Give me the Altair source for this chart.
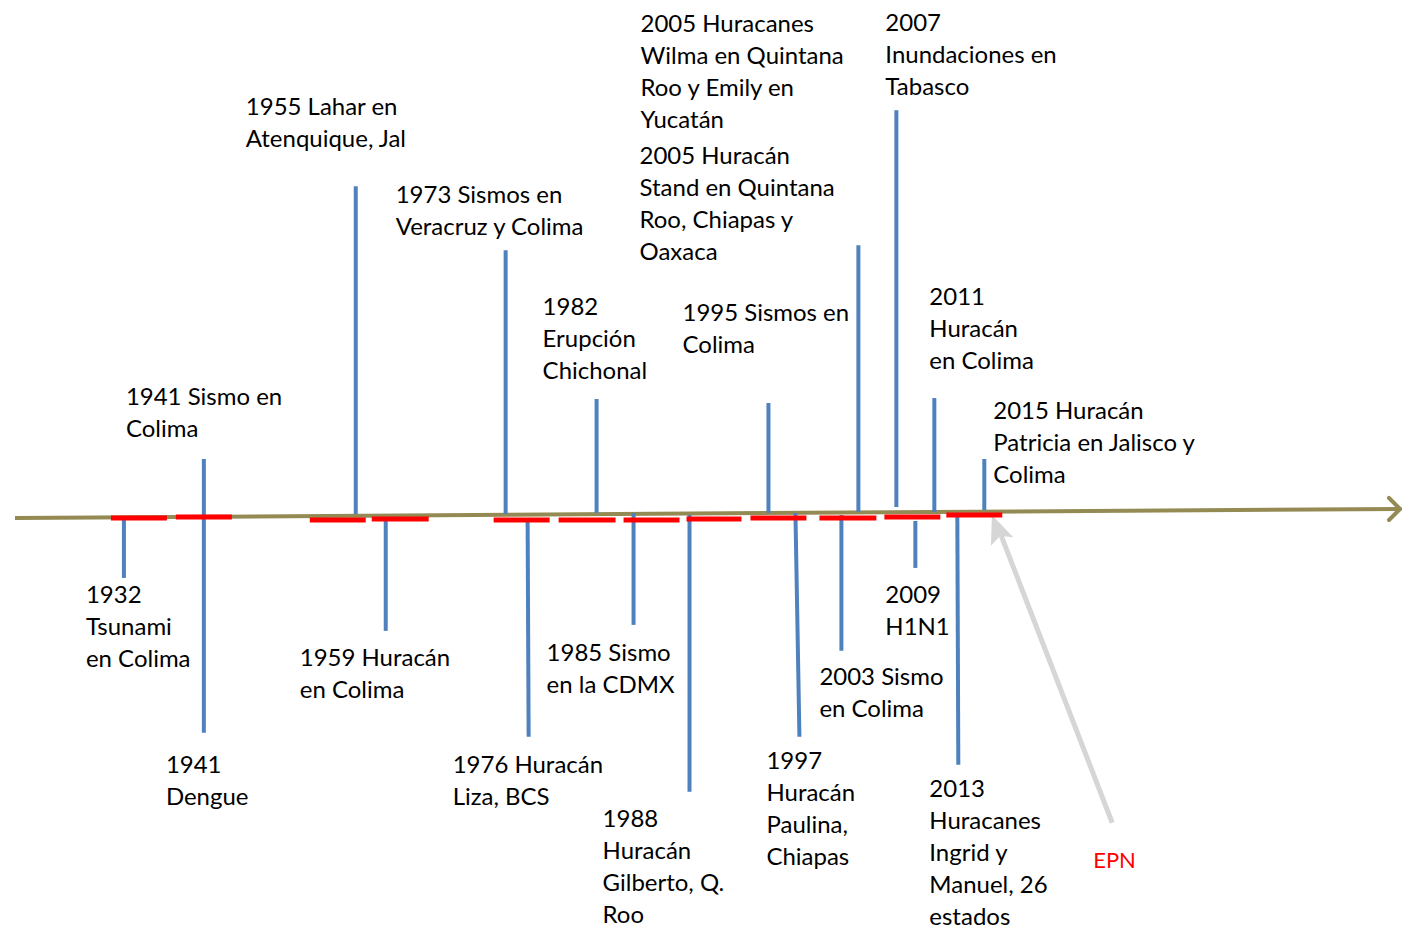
import altair as alt
import pandas as pd

# ---- data ----
# main timeline axis (start / end of the olive arrow)
axis_x = [15, 1401]
axis_y = [518, 509]
# arrow head arms of the axis
head_x = [1390, 1390]
head_y = [498, 520]

# red period segments on the axis
seg_x1 = [111, 176, 310, 372, 494, 559, 624, 687, 751, 820, 885, 947]
seg_x2 = [167, 232, 366, 429, 550, 616, 680, 742, 807, 877, 941, 1003]
seg_y = [518, 517, 520, 519, 520, 520, 520, 519, 518, 518, 517, 515]

# blue event stems: x top, x bottom, top, bottom
stem_x1 = [204, 356, 506, 597, 769, 859, 897, 935, 985,
           124, 204, 386, 528, 634, 690, 796, 842, 916, 958]
stem_x2 = [204, 356, 506, 597, 769, 859, 897, 935, 985,
           124, 204, 386, 529, 634, 690, 800, 842, 916, 959]
stem_top = [459, 186, 250, 399, 403, 245, 110, 398, 459,
            520, 517, 521, 521, 513, 515, 513, 515, 521, 516]
stem_bot = [517, 514, 514, 513, 513, 512, 507, 512, 510,
            578, 733, 631, 737, 625, 792, 737, 651, 568, 765]

# event labels
labels = [
    ["1941 Sismo en", "Colima"],
    ["1955 Lahar en", "Atenquique, Jal"],
    ["1973 Sismos en", "Veracruz y Colima"],
    ["1982", "Erupción", "Chichonal"],
    ["1995 Sismos en", "Colima"],
    ["2005 Huracanes", "Wilma en Quintana", "Roo y Emily en", "Yucatán"],
    ["2005 Huracán", "Stand en Quintana", "Roo, Chiapas y", "Oaxaca"],
    ["2007", "Inundaciones en", "Tabasco"],
    ["2011", "Huracán", "en Colima"],
    ["2015 Huracán", "Patricia en Jalisco y", "Colima"],
    ["1932", "Tsunami", "en Colima"],
    ["1941", "Dengue"],
    ["1959 Huracán", "en Colima"],
    ["1976 Huracán", "Liza, BCS"],
    ["1985 Sismo", "en la CDMX"],
    ["1988", "Huracán", "Gilberto, Q.", "Roo"],
    ["1997", "Huracán", "Paulina,", "Chiapas"],
    ["2003 Sismo", "en Colima"],
    ["2009", "H1N1"],
    ["2013", "Huracanes", "Ingrid y", "Manuel, 26", "estados"],
]
label_x = [126, 246, 396, 543, 683, 641, 640, 886, 930, 994,
           86, 166, 300, 453, 547, 603, 767, 820, 886, 930]
label_y = [398, 108, 196, 308, 314, 25, 157, 24, 298, 412,
           596, 766, 659, 766, 654, 820, 762, 678, 596, 790]
line_gap = 32

# EPN pointer
epn_text = "EPN"
epn_x = 1094
epn_y = 861
ptr_x = [1113, 1002]
ptr_y = [823, 536]
ptr_head_x = 998
ptr_head_y = 529

# ---- tables ----
axis_df = pd.DataFrame({"x": [axis_x[0]], "x2": [axis_x[1]], "y": [axis_y[0]], "y2": [axis_y[1]]})
head_df = pd.DataFrame({"x": head_x, "y": head_y, "x2": [axis_x[1]] * 2, "y2": [axis_y[1]] * 2})
seg_df = pd.DataFrame({"x": seg_x1, "x2": seg_x2, "y": seg_y})
stem_df = pd.DataFrame({"x": stem_x1, "x2": stem_x2, "y": stem_top, "y2": stem_bot})
rows = []
for lines, lx, ly in zip(labels, label_x, label_y):
    for i, t in enumerate(lines):
        rows.append({"x": lx, "y": ly + i * line_gap, "t": t})
text_df = pd.DataFrame(rows)
ptr_df = pd.DataFrame({"x": [ptr_x[0]], "y": [ptr_y[0]], "x2": [ptr_x[1]], "y2": [ptr_y[1]]})
ptr_head_df = pd.DataFrame({"x": [ptr_head_x], "y": [ptr_head_y]})
epn_df = pd.DataFrame({"x": [epn_x], "y": [epn_y], "t": [epn_text]})

W, H = 1394, 911
xs = alt.Scale(domain=[8, 8 + W], nice=False, zero=False)
ys = alt.Scale(domain=[8, 8 + H], nice=False, zero=False, reverse=True)
X = lambda f="x": alt.X(f"{f}:Q", scale=xs, axis=None)
Y = lambda f="y": alt.Y(f"{f}:Q", scale=ys, axis=None)

axis_line = alt.Chart(axis_df).mark_rule(color="#948A54", strokeWidth=4).encode(
    x=X(), x2="x2:Q", y=Y(), y2="y2:Q")
axis_head = alt.Chart(head_df).mark_rule(color="#948A54", strokeWidth=4, strokeCap="round").encode(
    x=X(), x2="x2:Q", y=Y(), y2="y2:Q")
stems = alt.Chart(stem_df).mark_rule(color="#4F81BD", strokeWidth=4).encode(
    x=X(), x2="x2:Q", y=Y(), y2="y2:Q")
segs = alt.Chart(seg_df).mark_rule(color="#FF0000", strokeWidth=5).encode(
    x=X(), x2="x2:Q", y=Y())
ptr = alt.Chart(ptr_df).mark_rule(color="#D6D6D6", strokeWidth=5).encode(
    x=X(), x2="x2:Q", y=Y(), y2="y2:Q")
ptr_head = alt.Chart(ptr_head_df).mark_point(
    shape="M0,-1L0.8,0.9L0,0.5L-0.8,0.9Z", filled=True, color="#D6D6D6", opacity=1,
    size=900, angle=339).encode(x=X(), y=Y())
texts = alt.Chart(text_df).mark_text(
    align="left", baseline="middle", font="Lato", fontSize=24, color="#000000").encode(
    x=X(), y=Y(), text="t:N")
epn = alt.Chart(epn_df).mark_text(
    align="left", baseline="middle", font="Lato", fontSize=22, color="#FF0000").encode(
    x=X(), y=Y(), text="t:N")

chart = alt.layer(axis_line, axis_head, ptr, ptr_head, stems, segs, texts, epn).properties(
    width=W, height=H, padding=0, background="white"
).configure_view(strokeWidth=0, stroke="transparent")

chart.save("out.html", embed_options={"renderer": "svg", "actions": False})
